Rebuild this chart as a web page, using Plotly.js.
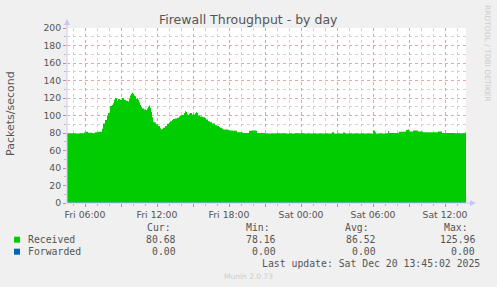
<!DOCTYPE html>
<html>
<head>
<meta charset="utf-8">
<script src="https://cdn.plot.ly/plotly-3.0.1.min.js"></script>
<style>html,body{margin:0;padding:0;background:#F0F0F0;}#chart{width:497px;height:287px;}</style>
</head>
<body>
<div id="chart"></div>
<script>
// ---- data ----
const windowStart = [2025, 11, 19, 4, 30];   // Fri 19 Dec 2025 04:30 (month 0-based)
const windowMinutes = 1995;                   // until Sat 13:45
// sample times, minutes after window start
const sampleMinutes = [0,15,40,65,85,95,105,125,140,155,170,175,180,190,200,205,215,225,230,235,240,250,255,265,275,285,295,305,310,315,320,325,330,335,340,345,350,355,360,365,370,375,385,395,400,405,410,415,420,425,430,435,445,455,465,470,475,480,490,500,510,515,525,530,540,550,560,565,575,580,585,590,595,600,605,610,615,620,625,630,635,640,645,650,655,665,675,680,690,695,705,715,725,730,740,750,760,765,775,780,795,805,810,830,840,850,865,875,880,905,910,925,945,950,990,1040,1090,1140,1190,1240,1290,1325,1335,1380,1390,1440,1490,1525,1530,1540,1545,1590,1605,1610,1655,1660,1690,1695,1705,1710,1725,1730,1750,1755,1775,1780,1850,1855,1870,1875,1940,1990,1995];
// Received packets/second
const receivedValues = [79.5,79.6,79.4,79.8,80.5,81.5,80.2,79.8,81,81.3,81.5,85,91,95,100,103,111,112,114,118,120,117,119,118,120,118,117,116,119,123,125,126,125,123,122,119,120,118,115,112,110,108,107,106,108,110,111.5,109,104,98,93,92,90,88,85.5,84,84.5,86,88,90.5,92,93.5,95,96,96.5,97.5,99,100,100.5,101,103,105,104,101.5,101,102,103,103,101,102,101,102.5,103.8,103,100,99,98.5,98,97,95.4,93.5,92.3,91,90.8,89,88,87,86,85,84,84,83.5,82.8,82.5,82.5,81,80.8,80.5,80,80,82.5,82.8,82.5,80,79.5,79.8,79.5,79.6,79.4,79.5,79.3,80.8,79.5,80.5,79.5,79.4,79.3,79.5,82.5,81,79.3,79.4,82,80,80.2,81.5,81.8,83.5,84,81.6,81.8,82.8,82.8,81.6,81.6,81,81,81.6,81.6,80,79.8,80.68,80.68];
// Forwarded packets/second
const forwardedMinutes = [0, 1995];
const forwardedValues = [0, 0];

const seriesNames = ['Received', 'Forwarded'];
const seriesColors = ['#00CC00', '#0066B3'];
const statHeaders = ['Cur:', 'Min:', 'Avg:', 'Max:'];
const receivedStats = ['80.68', '78.16', '86.52', '125.96'];
const forwardedStats = ['0.00', '0.00', '0.00', '0.00'];
const lastUpdate = 'Last update: Sat Dec 20 13:45:02 2025';

const xTickTimes = ['2025-12-19 06:00','2025-12-19 09:00','2025-12-19 12:00','2025-12-19 15:00','2025-12-19 18:00','2025-12-19 21:00','2025-12-20 00:00','2025-12-20 03:00','2025-12-20 06:00','2025-12-20 09:00','2025-12-20 12:00'];
const xTickLabels = ['Fri 06:00','','Fri 12:00','','Fri 18:00','','Sat 00:00','','Sat 06:00','','Sat 12:00'];

// ---- helpers ----
function pad(n){return (n<10?'0':'')+n;}
function toTime(m){
  const d = new Date(windowStart[0], windowStart[1], windowStart[2], windowStart[3], windowStart[4] + m);
  return d.getFullYear()+'-'+pad(d.getMonth()+1)+'-'+pad(d.getDate())+' '+pad(d.getHours())+':'+pad(d.getMinutes())+':00';
}
// pixel -> paper coordinates (plot area: x 67..466, y 28..203)
const L = 67, R = 466, T = 28, B = 203;
function px(x){return (x - L)/(R - L);}
function py(y){return (B - y)/(B - T);}

const traces = [
  {x: sampleMinutes.map(toTime), y: receivedValues, type:'scatter', mode:'lines',
   line:{width:0, shape:'hv', color:seriesColors[0]}, fill:'tozeroy', fillcolor:seriesColors[0], name:seriesNames[0]},
  {x: forwardedMinutes.map(toTime), y: forwardedValues, type:'scatter', mode:'lines',
   line:{width:1, color:seriesColors[1]}, name:seriesNames[1]}
];

const textColor = '#555555';
const mono = 'DejaVu Sans Mono';
const ann = [];
ann.push({text:'Firewall Throughput - by day', xref:'paper', yref:'paper', x:px(248.5), y:py(19), xanchor:'center', yanchor:'middle', showarrow:false, font:{family:'DejaVu Sans', size:12.5, color:textColor}});
ann.push({text:'Packets/second', xref:'paper', yref:'paper', x:px(10), y:py(114), textangle:-90, xanchor:'center', yanchor:'middle', showarrow:false, font:{family:'DejaVu Sans', size:11, color:textColor}});
ann.push({text:'RRDTOOL / TOBI OETIKER', xref:'paper', yref:'paper', x:px(487.5), y:py(53.5), textangle:90, xanchor:'center', yanchor:'middle', showarrow:false, font:{family:'DejaVu Sans', size:7.5, color:'#cccccc'}});
const headerRight = [173.3, 271.7, 370.7, 470];
const valueRight = [178.3, 278.3, 377.7, 476.7];
statHeaders.forEach((h,i)=>ann.push({text:h, xref:'paper', yref:'paper', x:px(headerRight[i]), y:py(227.3), xanchor:'right', yanchor:'middle', showarrow:false, font:{family:mono, size:9.8, color:textColor}}));
const rowsY = [239.3, 251.7];
[receivedStats, forwardedStats].forEach((row,r)=>{
  ann.push({text:seriesNames[r], xref:'paper', yref:'paper', x:px(26), y:py(rowsY[r]), xanchor:'left', yanchor:'middle', showarrow:false, font:{family:mono, size:9.8, color:textColor}});
  row.forEach((v,i)=>ann.push({text:v, xref:'paper', yref:'paper', x:px(valueRight[i]), y:py(rowsY[r]), xanchor:'right', yanchor:'middle', showarrow:false, font:{family:mono, size:9.8, color:textColor}}));
});
ann.push({text:lastUpdate, xref:'paper', yref:'paper', x:px(482.3), y:py(263.3), xanchor:'right', yanchor:'middle', showarrow:false, font:{family:mono, size:9.8, color:textColor}});
ann.push({text:'Munin 2.0.73', xref:'paper', yref:'paper', x:px(248), y:py(276), xanchor:'center', yanchor:'middle', showarrow:false, font:{family:'DejaVu Sans', size:7.5, color:'#cccccc'}});

const axisCol = '#c8c8f8';
const shapes = [
  {type:'line', xref:'paper', yref:'paper', x0:px(67), x1:px(67), y0:py(203), y1:py(24), line:{color:axisCol, width:1}},
  {type:'path', xref:'paper', yref:'paper', path:'M '+px(64)+' '+py(25)+' L '+px(70)+' '+py(25)+' L '+px(67)+' '+py(19)+' Z', fillcolor:axisCol, line:{width:0}},
  {type:'line', xref:'paper', yref:'paper', x0:px(67), x1:px(471), y0:py(203), y1:py(203), line:{color:axisCol, width:1}},
  {type:'path', xref:'paper', yref:'paper', path:'M '+px(470)+' '+py(200)+' L '+px(470)+' '+py(206)+' L '+px(476)+' '+py(203)+' Z', fillcolor:axisCol, line:{width:0}},
  {type:'rect', xref:'paper', yref:'paper', x0:px(14), x1:px(20), y0:py(236.7), y1:py(242.7), fillcolor:seriesColors[0], line:{width:0}},
  {type:'rect', xref:'paper', yref:'paper', x0:px(14), x1:px(20), y0:py(248.7), y1:py(254.7), fillcolor:seriesColors[1], line:{width:0}}
];

const majorGrid = 'rgba(230,140,140,0.8)';
const minorGrid = '#d4d4d4';
const layout = {
  width:497, height:287,
  margin:{l:L, r:497-R, t:T, b:287-B, pad:0},
  paper_bgcolor:'#F0F0F0', plot_bgcolor:'#FFFFFF',
  showlegend:false, hovermode:false,
  xaxis:{type:'date', range:[toTime(0), toTime(windowMinutes)], tickmode:'array', tickvals:xTickTimes, ticktext:xTickLabels,
    showgrid:true, gridcolor:majorGrid, griddash:'dot', gridwidth:1, zeroline:false, showline:false,
    ticks:'outside', ticklen:3, tickcolor:'#e08080', tickfont:{family:'DejaVu Sans', size:9.3, color:textColor},
    minor:{tickmode:'linear', tick0:'2025-12-19 00:00', dtick:3600000, showgrid:true, gridcolor:minorGrid, griddash:'dot', gridwidth:1, ticks:'outside', ticklen:2, tickcolor:'#bbbbbb'}},
  yaxis:{range:[0,200], dtick:20, tick0:0, showgrid:true, gridcolor:majorGrid, griddash:'dot', gridwidth:1, zeroline:false, showline:false,
    ticks:'outside', ticklen:3, tickcolor:'#e08080', tickfont:{family:'DejaVu Sans', size:9.3, color:textColor},
    minor:{dtick:10, showgrid:true, gridcolor:minorGrid, griddash:'dot', gridwidth:1, ticks:'outside', ticklen:2, tickcolor:'#bbbbbb'}},
  annotations:ann, shapes:shapes
};
Plotly.newPlot('chart', traces, layout, {staticPlot:true, displayModeBar:false});
</script>
</body>
</html>
